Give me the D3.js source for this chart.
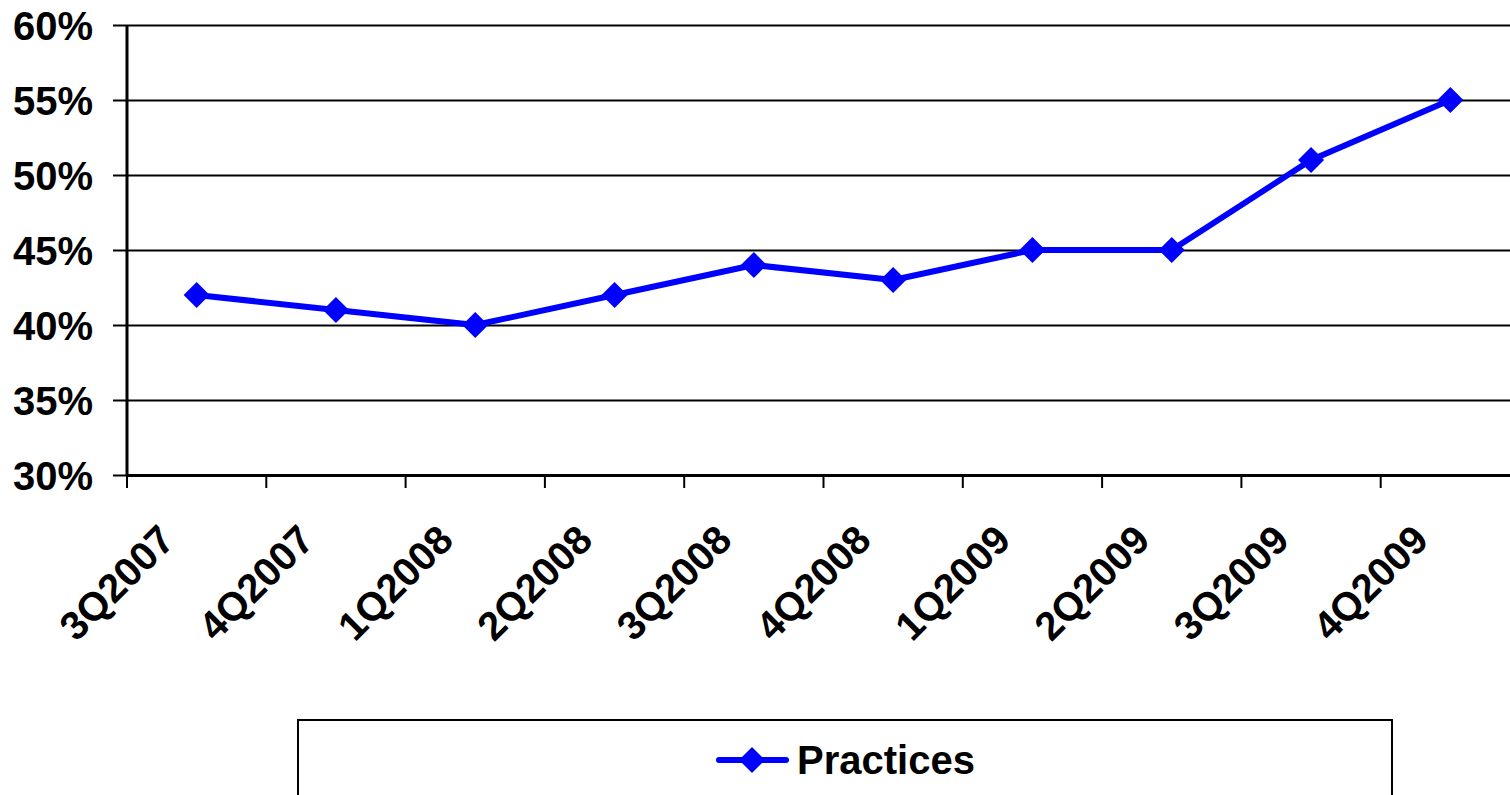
<!DOCTYPE html>
<html>
<head>
<meta charset="utf-8">
<script src="https://cdn.jsdelivr.net/npm/d3@7"></script>
<style>
  body { margin: 0; background: #fff; }
  svg { display: block; font-family: "Liberation Sans", Arial, sans-serif; font-weight: bold; }
</style>
</head>
<body>
<div id="chart"></div>
<script>
// chart data
var quarters = ["3Q2007", "4Q2007", "1Q2008", "2Q2008", "3Q2008", "4Q2008", "1Q2009", "2Q2009", "3Q2009", "4Q2009"];
var practices = [0.42, 0.41, 0.40, 0.42, 0.44, 0.43, 0.45, 0.45, 0.51, 0.55];
var yTicks = [0.30, 0.35, 0.40, 0.45, 0.50, 0.55, 0.60];
var seriesName = "Practices";

var width = 1510, height = 795;
var margin = { top: 25, left: 127, bottom: 475 };
var blue = "#0000ff";
var fontSize = "40px";

var svg = d3.select("#chart").append("svg")
    .attr("width", width)
    .attr("height", height);

// scales
var xScale = d3.scaleBand()
    .domain(quarters)
    .range([margin.left, 1520])
    .padding(0);

var yScale = d3.scaleLinear()
    .domain([0.30, 0.60])
    .range([margin.bottom, margin.top]);

// horizontal gridlines with outward ticks
var yAxis = d3.axisLeft(yScale)
    .tickValues(yTicks)
    .tickSize(-(width - margin.left))
    .tickSizeOuter(0)
    .tickPadding(34)
    .tickFormat(d3.format(".0%"));

var gy = svg.append("g")
    .attr("transform", "translate(" + margin.left + ",0)")
    .call(yAxis);
gy.select(".domain").remove();
gy.selectAll(".tick line")
    .attr("x1", -14)
    .attr("stroke", "#000")
    .attr("stroke-width", 2);
gy.selectAll(".tick text")
    .attr("fill", "#000")
    .style("font-size", fontSize)
    .style("font-weight", "bold")
    .attr("dy", "0.36em");

// y axis line
svg.append("line")
    .attr("x1", margin.left).attr("x2", margin.left)
    .attr("y1", margin.top).attr("y2", margin.bottom)
    .attr("stroke", "#000").attr("stroke-width", 3);

// x axis
var xAxis = d3.axisBottom(xScale).tickSize(0).tickFormat("");
var gx = svg.append("g")
    .attr("transform", "translate(0," + margin.bottom + ")")
    .call(xAxis);
gx.select(".domain").attr("stroke", "#000").attr("stroke-width", 3);

// tick marks between categories
var bounds = quarters.map(function(q) { return xScale(q); });
svg.selectAll(".xtick")
    .data(bounds).enter().append("line")
    .attr("class", "xtick")
    .attr("x1", function(d) { return d; })
    .attr("x2", function(d) { return d; })
    .attr("y1", margin.bottom)
    .attr("y2", margin.bottom + 13)
    .attr("stroke", "#000").attr("stroke-width", 2);

// rotated category labels
svg.selectAll(".xlabel")
    .data(quarters).enter().append("text")
    .attr("class", "xlabel")
    .attr("text-anchor", "end")
    .attr("transform", function(d) {
        var cx = xScale(d) + xScale.bandwidth() / 2;
        return "translate(" + [cx - 30, 532] + ") rotate(-45)";
    })
    .attr("dy", "0.36em")
    .style("font-size", fontSize)
    .text(function(d) { return d; });

// line
var line = d3.line()
    .x(function(d, i) { return xScale(quarters[i]) + xScale.bandwidth() / 2; })
    .y(function(d) { return yScale(d); });

svg.append("path")
    .datum(practices)
    .attr("fill", "none")
    .attr("stroke", blue)
    .attr("stroke-width", 6)
    .attr("stroke-linejoin", "round")
    .attr("d", line);

var diamond = d3.symbol().type(d3.symbolSquare).size(338);

svg.selectAll(".dot")
    .data(practices).enter().append("path")
    .attr("class", "dot")
    .attr("d", diamond)
    .attr("fill", blue)
    .attr("transform", function(d, i) {
        return "translate(" + [xScale(quarters[i]) + xScale.bandwidth() / 2, yScale(d)] + ") rotate(45)";
    });

// legend
var legend = svg.append("g");
legend.append("rect")
    .attr("x", 298).attr("y", 720)
    .attr("width", 1094).attr("height", 120)
    .attr("fill", "none")
    .attr("stroke", "#000").attr("stroke-width", 2);
legend.append("line")
    .attr("x1", 719).attr("x2", 786)
    .attr("y1", 760).attr("y2", 760)
    .attr("stroke", blue).attr("stroke-width", 6)
    .attr("stroke-linecap", "round");
legend.append("path")
    .attr("d", diamond)
    .attr("fill", blue)
    .attr("transform", "translate(752,760) rotate(45)");
legend.append("text")
    .attr("x", 797).attr("y", 760)
    .attr("dy", "0.36em")
    .style("font-size", fontSize)
    .text(seriesName);
</script>
</body>
</html>
